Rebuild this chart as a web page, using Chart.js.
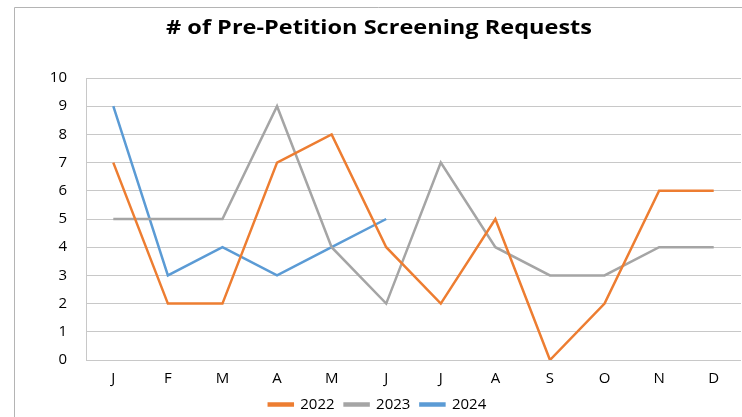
<!DOCTYPE html>
<html>
<head>
<meta charset="utf-8">
<script src="https://cdn.jsdelivr.net/npm/chart.js@4"></script>
<style>
  html, body { margin: 0; padding: 0; background: #fff; }
  #wrap { width: 742px; height: 417px; }
</style>
</head>
<body>
<div id="wrap"><canvas id="graph" width="742" height="417"></canvas></div>
<script>
// chart data
const months = ['J', 'F', 'M', 'A', 'M', 'J', 'J', 'A', 'S', 'O', 'N', 'D'];
const requests2022 = [7, 2, 2, 7, 8, 4, 2, 5, 0, 2, 6, 6];
const requests2023 = [5, 5, 5, 9, 4, 2, 7, 4, 3, 3, 4, 4];
const requests2024 = [9, 3, 4, 3, 4, 5];
const chartTitle = '# of Pre-Petition Screening Requests';

const fontFamily = '"Open Sans", "Liberation Sans", sans-serif';

// outer frame + title, drawn like the excel chart box
const framePlugin = {
    id: 'frame',
    beforeDraw(chart) {
        const ctx = chart.ctx;
        ctx.save();
        ctx.fillStyle = '#fff';
        ctx.fillRect(0, 0, chart.width, chart.height);
        ctx.strokeStyle = '#b4b4b4';
        ctx.lineWidth = 1;
        ctx.beginPath();
        ctx.moveTo(14.5, chart.height);
        ctx.lineTo(14.5, 7.5);
        ctx.lineTo(chart.width, 7.5);
        ctx.stroke();
        // title is a bit wide in the original, stretch it to fit
        ctx.fillStyle = '#000';
        ctx.font = 'bold 19px ' + fontFamily;
        ctx.textAlign = 'center';
        ctx.textBaseline = 'middle';
        let w = ctx.measureText(chartTitle).width;
        let sx = 426 / w;
        ctx.translate(379, 29);
        ctx.scale(sx, 1);
        ctx.fillText(chartTitle, 0, 0);
        ctx.restore();
    }
};

function lineSet(label, data, color) {
    return {
        label: label,
        data: data,
        borderColor: color,
        backgroundColor: color,
        borderWidth: 2.5,
        pointRadius: 0,
        tension: 0,
        fill: false
    };
}

let myChart = new Chart(document.getElementById('graph'), {
    type: 'line',
    data: {
        labels: months,
        datasets: [
            lineSet('2022', requests2022, '#ED7D31'),
            lineSet('2023', requests2023, '#A5A5A5'),
            lineSet('2024', requests2024, '#5B9BD5')
        ]
    },
    plugins: [framePlugin],
    options: {
        responsive: false,
        animation: false,
        layout: { padding: { left: 14, top: 78, right: 1, bottom: -5 } },
        plugins: {
            title: { display: false },
            tooltip: { enabled: false },
            legend: {
                position: 'bottom',
                labels: {
                    boxWidth: 24,
                    boxHeight: 2,
                    padding: 10,
                    color: '#000',
                    font: { family: fontFamily, size: 15 }
                }
            }
        },
        scales: {
            x: {
                offset: true,
                grid: { display: false, drawTicks: false },
                border: { display: false },
                ticks: { color: '#000', padding: 11, font: { family: fontFamily, size: 15, lineHeight: 1 } },
                afterFit(scale) { scale.height = 27; }
            },
            y: {
                min: 0,
                max: 10,
                ticks: { stepSize: 1, color: '#000', padding: 19, font: { family: fontFamily, size: 15 } },
                grid: { color: '#c8c8c8', lineWidth: 1, drawTicks: false },
                border: { display: true, color: '#c8c8c8' },
                afterFit(scale) { scale.width = 72; }
            }
        }
    }
});
</script>
</body>
</html>
